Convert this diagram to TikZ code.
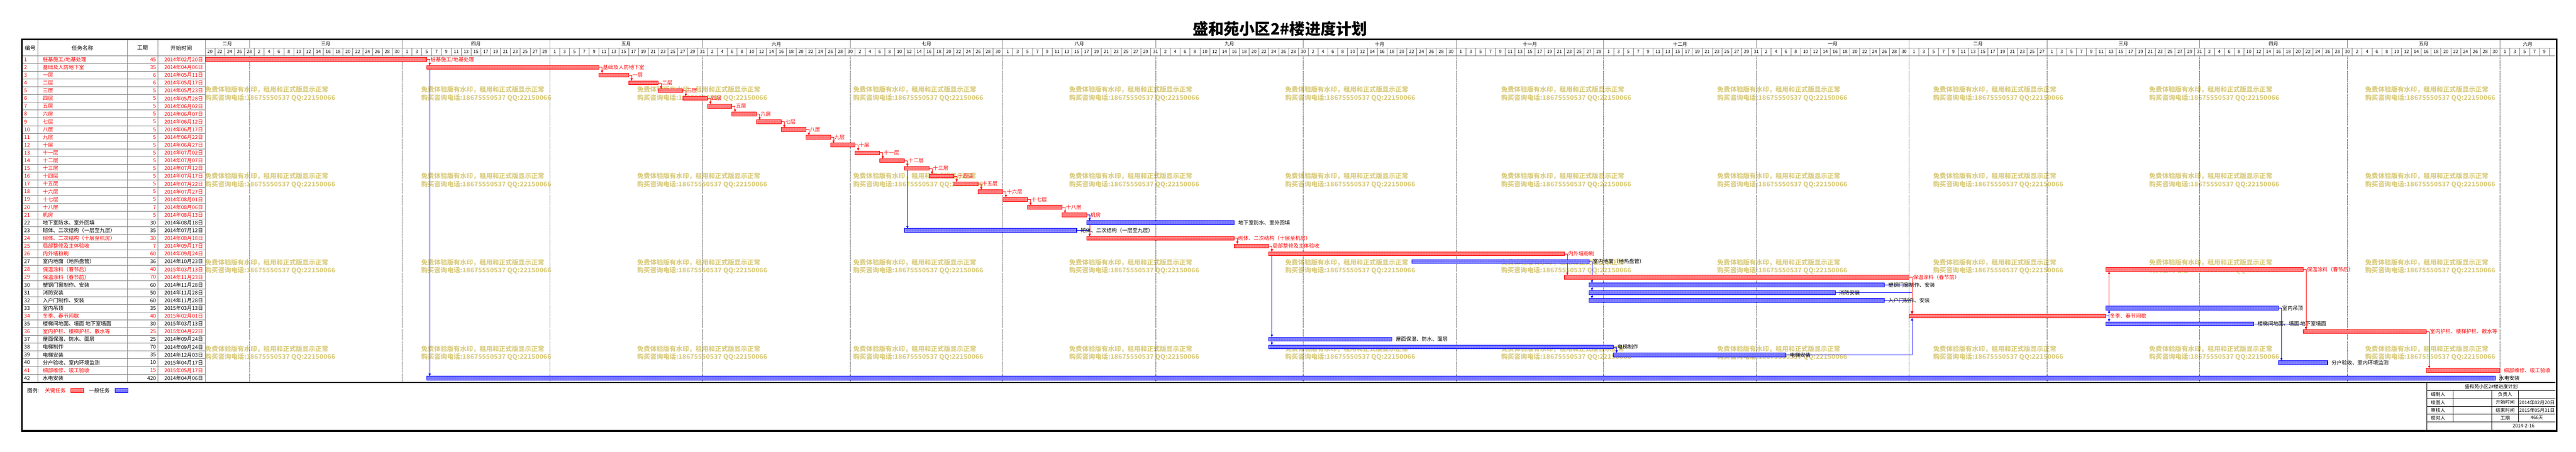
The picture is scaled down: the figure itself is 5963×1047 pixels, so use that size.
\documentclass[tikz,border=0pt]{standalone}
\usepackage{fontspec}
\setmainfont{Noto Sans CJK SC}
\usetikzlibrary{arrows.meta,patterns,calc}
\pgfdeclarelayer{bg}
\pgfdeclarelayer{lk}
\pgfsetlayers{bg,lk,main}
\pgfdeclarepatternformonly{chk}{\pgfqpoint{0pt}{0pt}}{\pgfqpoint{2pt}{2pt}}{\pgfqpoint{2pt}{2pt}}{%
  \pgfpathrectangle{\pgfqpoint{0pt}{0pt}}{\pgfqpoint{1pt}{1pt}}%
  \pgfpathrectangle{\pgfqpoint{1pt}{1pt}}{\pgfqpoint{1pt}{1pt}}%
  \pgfusepath{fill}}
\definecolor{wmc}{RGB}{218,204,128}
\colorlet{txtr}{red}
\colorlet{txtk}{black}
\colorlet{barr}{red}
\colorlet{bark}{blue}
\colorlet{bgr}{red!30!white}
\colorlet{bgk}{blue!30!white}
\colorlet{gridc}{black!50}
\newcommand\myfs[1]{\fontsize{#1}{#1}\selectfont}
\newcommand\tasklist{%
1/{桩基施工/地基处理}/45/0/{2014年02月20日}/r,
2/{基础及人防地下室}/35/45/{2014年04月06日}/r,
3/{一层}/6/80/{2014年05月11日}/r,
4/{二层}/6/86/{2014年05月17日}/r,
5/{三层}/5/92/{2014年05月23日}/r,
6/{四层}/5/97/{2014年05月28日}/r,
7/{五层}/5/102/{2014年06月02日}/r,
8/{六层}/5/107/{2014年06月07日}/r,
9/{七层}/5/112/{2014年06月12日}/r,
10/{八层}/5/117/{2014年06月17日}/r,
11/{九层}/5/122/{2014年06月22日}/r,
12/{十层}/5/127/{2014年06月27日}/r,
13/{十一层}/5/132/{2014年07月02日}/r,
14/{十二层}/5/137/{2014年07月07日}/r,
15/{十三层}/5/142/{2014年07月12日}/r,
16/{十四层}/5/147/{2014年07月17日}/r,
17/{十五层}/5/152/{2014年07月22日}/r,
18/{十六层}/5/157/{2014年07月27日}/r,
19/{十七层}/5/162/{2014年08月01日}/r,
20/{十八层}/7/167/{2014年08月06日}/r,
21/{机房}/5/174/{2014年08月13日}/r,
22/{地下室防水、室外回填}/30/179/{2014年08月18日}/k,
23/{砌体、二次结构（一层至九层）}/35/142/{2014年07月12日}/k,
24/{砌体、二次结构（十层至机房）}/30/179/{2014年08月18日}/r,
25/{局部整修及主体验收}/7/209/{2014年09月17日}/r,
26/{内外墙粉刷}/60/216/{2014年09月24日}/r,
27/{室内地面（地热盘管）}/36/245/{2014年10月23日}/k,
28/{保温涂料（春节后）}/40/386/{2015年03月13日}/r,
29/{保温涂料（春节前）}/70/276/{2014年11月23日}/r,
30/{塑钢门窗制作、安装}/60/281/{2014年11月28日}/k,
31/{消防安装}/50/281/{2014年11月28日}/k,
32/{入户门制作、安装}/60/281/{2014年11月28日}/k,
33/{室内吊顶}/35/386/{2015年03月13日}/k,
34/{冬季、春节间歇}/40/346/{2015年02月01日}/r,
35/{楼梯间地面、墙面 地下室墙面}/30/386/{2015年03月13日}/k,
36/{室内护栏、楼梯护栏、散水等}/25/426/{2015年04月22日}/r,
37/{屋面保温、防水、面层}/25/216/{2014年09月24日}/k,
38/{电梯制作}/70/216/{2014年09月24日}/k,
39/{电梯安装}/35/286/{2014年12月03日}/k,
40/{分户验收、室内环境监测}/10/421/{2015年04月17日}/k,
41/{细部维修、竣工验收}/15/451/{2015年05月17日}/r,
42/{水电安装}/420/45/{2014年04月06日}/k}
\begin{document}
\begin{tikzpicture}[x=1pt,y=-1pt,
  every node/.style={inner sep=0pt,outer sep=0pt},
  cell/.style={font=\myfs{12}},
  hdr/.style={font=\myfs{12.5}},
  mon/.style={font=\myfs{11}},
  dayl/.style={font=\myfs{10.5}},
  wm/.style={font=\myfs{15}\bfseries, text=wmc, anchor=west},
  tb/.style={font=\myfs{11}},
  gline/.style={draw=gridc, line width=1pt},
  mline/.style={black, line width=1pt, dash pattern=on 1pt off 1.5pt},
  tbar/.style={line width=1.2pt, minimum height=9pt, pattern=chk},
  lk/.style={line width=0.9pt, -{Triangle[length=6pt,width=5pt]}}
]
\useasboundingbox (0,0) rectangle (5963,1047);
\begin{pgfonlayer}{bg}
\fill[white] (0,0) rectangle (5963,1047);
\foreach \wj in {0,...,10} \foreach \wr in {0,...,3} {
  \node[wm] (wa\wj-\wr) at ({475+500*\wj},{208+200*\wr}) {免费体验版有水印，租用和正式版显示正常};
  \node[wm] (wb\wj-\wr) at ({475+500*\wj},{227+200*\wr}) {购买咨询电话:18675550537 QQ:22150066};
}
\end{pgfonlayer}

% title
\node[font=\myfs{36}\bfseries] (title) at (2963,67) {盛和苑小区2\#楼进度计划};

% table header
\node[hdr] (h1) at (70,111) {编号};
\node[hdr] (h2) at (191,111) {任务名称};
\node[hdr] (h3) at (330,111) {工期};
\node[hdr] (h4) at (419.5,111) {开始时间};

% grid of table and timeline header
\foreach \gx in {87,295,365,474.7} \draw[gline] (\gx,93.6) -- (\gx,886);
\foreach \gr in {1,...,41} \draw[gline] (53,{129+18*\gr}) -- (474.7,{129+18*\gr});
\draw[gline] (53,129) -- (5915,129);
\draw[gline] (474.7,111) -- (5915,111);
\foreach \gk in {1,...,238} \draw[gline] ({474.7+22.8*\gk},111) -- ({474.7+22.8*\gk},129);

% months and days
\foreach \msz/\mlen/\mnm [count=\mi] in {-19/28/二月, 9/31/三月, 40/30/四月, 70/31/五月, 101/30/六月, 131/31/七月, 162/31/八月, 193/30/九月, 223/31/十月, 254/30/十一月, 284/31/十二月, 315/31/一月, 346/28/二月, 374/31/三月, 405/30/四月, 435/31/五月, 466/30/六月} {
  \pgfmathsetmacro\msa{max(\msz,0)}
  \pgfmathsetmacro\meb{min(\msz+\mlen,477.2)}
  \node[mon] (mo\mi) at ({474.7+11.4*(\msa+\meb)/2},102) {\mnm};
  \pgfmathtruncatemacro\mka{ceil(\msa/2)}
  \pgfmathtruncatemacro\mkb{min(floor((\msz+\mlen-1)/2),237)}
  \foreach \dk in {\mka,...,\mkb} {
    \pgfmathtruncatemacro\mdd{2*\dk-\msz+1}
    \node[dayl] (dy\dk) at ({474.7+22.8*\dk+11.4},120) {\mdd};
  }
  \ifnum\mi<17
    \draw[gline] ({474.7+11.4*\meb},93.6) -- ({474.7+11.4*\meb},111);
    \begin{pgfonlayer}{bg}
      \draw[mline] ({474.7+11.4*\meb},129) -- ({474.7+11.4*\meb},886);
    \end{pgfonlayer}
  \fi
}

% tasks
\foreach \ti/\tnm/\tdu/\tst/\tdt/\tcl in \tasklist {
  \pgfmathsetmacro\tyc{138+18*(\ti-1)}
  \pgfmathsetmacro\txs{474.7+11.4*\tst}
  \pgfmathsetmacro\tw{11.4*\tdu}
  \node[cell, text=txt\tcl, anchor=west] (no\ti) at (56,\tyc) {\ti};
  \node[cell, text=txt\tcl, anchor=west] (nm\ti) at (99,\tyc) {\tnm};
  \node[cell, text=txt\tcl, anchor=east] (du\ti) at (361,\tyc) {\tdu};
  \node[cell, text=txt\tcl, anchor=east] (dt\ti) at (470,\tyc) {\tdt};
  \node[tbar, preaction={fill=bg\tcl}, draw=bar\tcl, pattern color=bar\tcl, minimum width=\tw pt, anchor=west] (b\ti) at (\txs,\tyc) {};
  \node[cell, text=txt\tcl, anchor=west] (l\ti) at ([xshift=9pt]b\ti.east) {\tnm};
}

% links
\begin{pgfonlayer}{lk}
\foreach \pa/\pb/\pc/\pn in {1/42/k/north west, 14/23/k/north west, 23/24/k/north west, 25/37/k/north west, 25/38/k/north west, 30/34/k/north west, 31/34/k/north west, 32/34/k/north west, 35/36/k/north west}
  \draw[lk, color=bar\pc] (b\pa.east) -| ($(b\pb.\pn)+(7,0)$);
\foreach \pa in {1,...,20} {
  \pgfmathtruncatemacro\pb{\pa+1}
  \draw[lk, color=barr] (b\pa.east) -| ($(b\pb.north west)+(7,0)$);
}
\foreach \pa/\pb/\pc/\pn in {21/24/r/north west, 24/25/r/north west, 25/26/r/north west, 26/29/r/north west, 29/34/r/north west, 34/28/r/south west, 28/36/r/north west, 36/41/r/north west, 21/22/k/north west, 27/30/k/north west, 27/31/k/north west, 27/32/k/north west, 38/39/k/north west, 39/34/k/south west, 34/33/k/south west, 34/35/k/north west, 33/40/k/north west}
  \draw[lk, color=bar\pc] (b\pa.east) -| ($(b\pb.\pn)+(7,0)$);
\end{pgfonlayer}

% bottom line of table area
\draw[line width=2pt] (53,886) -- (5915,886);

% legend
\node[cell, anchor=west] (lg0) at (63,905) {图例:};
\node[cell, anchor=west, text=red] (lg1) at (104,905) {关键任务};
\node[tbar, preaction={fill=bgr}, draw=red, pattern color=red, minimum width=30pt] (lg2) at (179,904.5) {};
\node[cell, anchor=west] (lg3) at (206,905) {一般任务};
\node[tbar, preaction={fill=bgk}, draw=blue, pattern color=blue, minimum width=30pt] (lg4) at (281,904.5) {};

% title block
\draw[line width=1pt] (5618,887) -- (5618,996);
\foreach \yy in {905,923,941,959,977} \draw[line width=1pt] (5618,\yy) -- (5915,\yy);
\draw[line width=1pt] (5678,905) -- (5678,977);
\draw[line width=1pt] (5768,905) -- (5768,996);
\draw[line width=1pt] (5830,905) -- (5830,977);
\node[tb] (tb0) at (5766.5,896) {盛和苑小区2\#楼进度计划};
\node[tb, anchor=west] (tb1) at (5627,914) {编制人};
\node[tb, anchor=west] (tb2) at (5627,932) {绘图人};
\node[tb, anchor=west] (tb3) at (5627,950) {审核人};
\node[tb, anchor=west] (tb4) at (5627,968) {校对人};
\node[tb] (tb5) at (5799,914) {负责人};
\node[tb] (tb6) at (5799,932) {开始时间};
\node[tb] (tb7) at (5799,950) {结束时间};
\node[tb] (tb8) at (5799,968) {工期};
\node[tb] (tb9) at (5872.5,932) {2014年02月20日};
\node[tb] (tb10) at (5872.5,950) {2015年05月31日};
\node[tb] (tb11) at (5872.5,968) {466天};
\node[tb] (tb12) at (5841.5,986) {2014-2-16};

% frame
\draw[line width=4.6pt] (50.6,91.3) rectangle (5918.2,998.6);
\end{tikzpicture}
\end{document}
